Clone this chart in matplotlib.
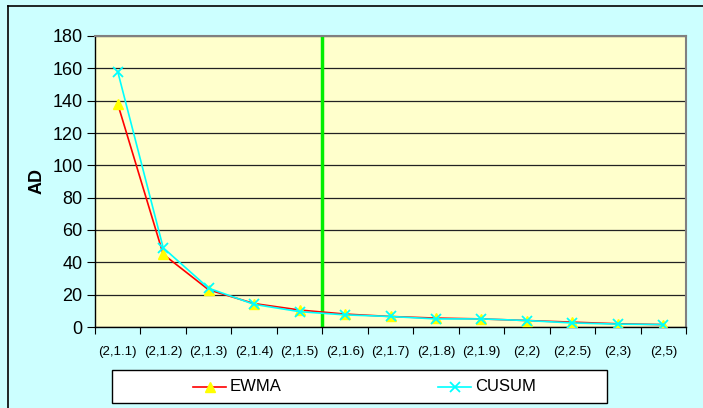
import matplotlib
matplotlib.use("Agg")
import matplotlib.pyplot as plt
from matplotlib.lines import Line2D
from matplotlib.patches import Rectangle

plt.rcParams['font.family'] = ['Liberation Sans', 'DejaVu Sans']

categories = ["(2,1.1)", "(2,1.2)", "(2,1.3)", "(2,1.4)", "(2,1.5)", "(2,1.6)", "(2,1.7)",
              "(2,1.8)", "(2,1.9)", "(2,2)", "(2,2.5)", "(2,3)", "(2,5)"]
ewma = [138, 45, 23, 14.5, 10.5, 8, 6.5, 5.5, 5, 4, 3, 2, 1.5]
cusum = [158, 49, 24, 14, 9.5, 7.5, 6.5, 5, 5, 4, 2.5, 1.8, 1.5]
yticks = [0, 20, 40, 60, 80, 100, 120, 140, 160, 180]
split_after = 5  # vertical line between (2,1.5) and (2,1.6)

W, H = 703, 408
fig = plt.figure(figsize=(W / 100, H / 100), dpi=100)
fig.patch.set_facecolor('#CCFFFF')

# outer border (top/left visible)
fig.add_artist(Line2D([8 / W, 8 / W], [0, 1 - 6 / H], transform=fig.transFigure, color='black', lw=1.2))
fig.add_artist(Line2D([8 / W, 1], [1 - 6 / H, 1 - 6 / H], transform=fig.transFigure, color='black', lw=1.2))

left, right, top, bottom = 95, 686, 36, 327
ax = fig.add_axes([left / W, 1 - bottom / H, (right - left) / W, (bottom - top) / H])
ax.set_facecolor('#FFFFCC')

n = len(categories)
x = list(range(n))
ax.set_xlim(-0.5, n - 0.5)
ax.set_ylim(0, 180)
ax.set_yticks(yticks)
ax.set_yticklabels([str(v) for v in yticks], fontsize=13)
ax.yaxis.grid(True, color='#222222', lw=0.9)
ax.set_axisbelow(True)

ax.set_xticks([i - 0.5 for i in range(n + 1)])
ax.set_xticklabels([])
ax.set_xticks(x, minor=True)
ax.set_xticklabels(categories, minor=True, fontsize=9.5)
ax.tick_params(axis='x', which='minor', length=0, pad=14)
ax.tick_params(axis='x', which='major', length=5, direction='out', color='black')
ax.tick_params(axis='y', length=6, direction='out', color='black', pad=3)

for s in ['top', 'right']:
    ax.spines[s].set_color('#808080')
    ax.spines[s].set_linewidth(1.5)
for s in ['left', 'bottom']:
    ax.spines[s].set_color('black')
    ax.spines[s].set_linewidth(1)

ax.axvline(split_after - 0.5, color='#00EE00', lw=2.5, zorder=2)

ax.plot(x, ewma, color='red', lw=1.2, marker='^', markersize=7,
        markerfacecolor='yellow', markeredgecolor='yellow', zorder=3, label='EWMA')
ax.plot(x, cusum, color='cyan', lw=1.2, marker='x', markersize=7,
        markeredgecolor='cyan', markeredgewidth=1.3, zorder=4, label='CUSUM')

ax.set_ylabel('AD', fontsize=13, fontweight='bold')
ax.yaxis.set_label_coords((46 - left) / (right - left), 0.5)

# legend box
lx0, lx1, ly0, ly1 = 112, 607, 370, 403
fig.add_artist(Rectangle((lx0 / W, 1 - ly1 / H), (lx1 - lx0) / W, (ly1 - ly0) / H,
                         transform=fig.transFigure, facecolor='white', edgecolor='black', lw=1))
ly = 1 - 386.5 / H
fig.add_artist(Line2D([193 / W, 226 / W], [ly, ly], transform=fig.transFigure, color='red', lw=1.2))
fig.add_artist(Line2D([209.5 / W], [ly], transform=fig.transFigure, marker='^', markersize=7,
                      markerfacecolor='yellow', markeredgecolor='yellow', linestyle='none'))
fig.text(230 / W, ly, 'EWMA', fontsize=12, va='center', ha='left')
fig.add_artist(Line2D([438 / W, 471 / W], [ly, ly], transform=fig.transFigure, color='cyan', lw=1.2))
fig.add_artist(Line2D([454.5 / W], [ly], transform=fig.transFigure, marker='x', markersize=7,
                      markeredgecolor='cyan', markeredgewidth=1.3, linestyle='none'))
fig.text(475 / W, ly, 'CUSUM', fontsize=12, va='center', ha='left')

fig.savefig('out.png', dpi=100, facecolor=fig.get_facecolor())
